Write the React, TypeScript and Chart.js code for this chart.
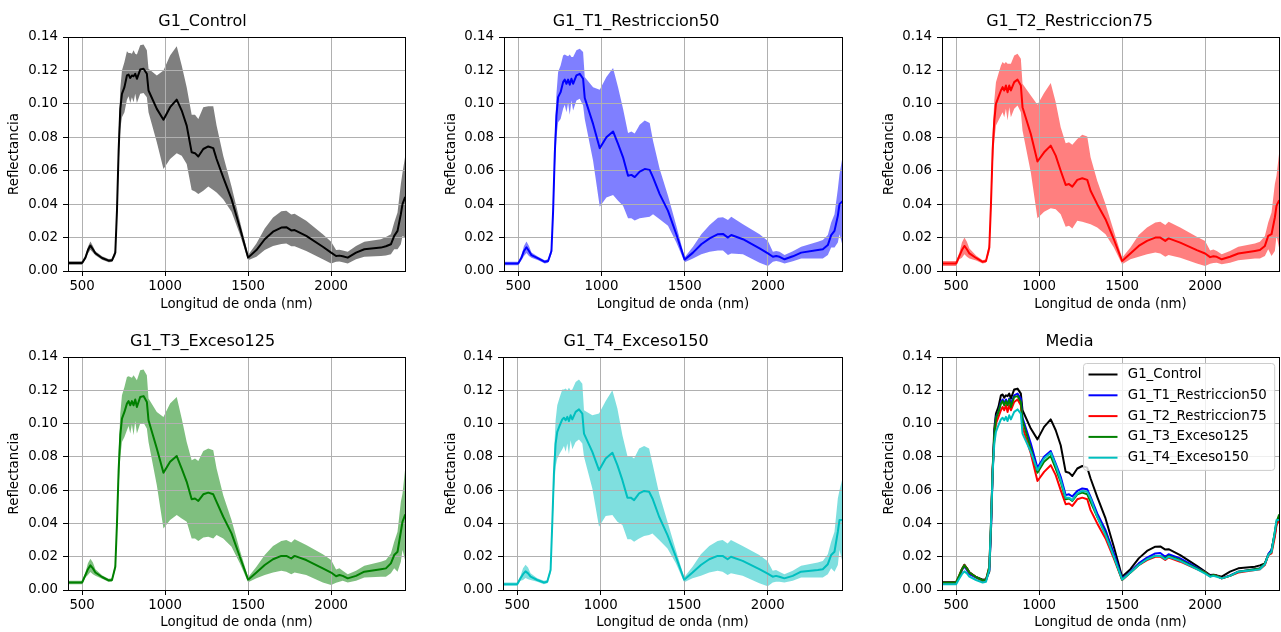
import React, { useEffect, useRef } from "react";
import { Chart, registerables } from "chart.js";

Chart.register(...registerables);

// ---------------- data ----------------
const WAVELENGTHS = [
  420, 500, 520, 535, 550, 565, 580, 620, 660, 680, 700, 710,
  720, 730, 740, 755, 770, 780, 790, 800, 810, 820,
  830, 850, 870, 890, 900, 950, 990, 1030, 1070, 1100,
  1130, 1160, 1180, 1200, 1230, 1260, 1290, 1310, 1350, 1400,
  1450, 1500, 1550, 1600, 1650, 1700, 1730, 1760, 1780, 1850,
  1950, 2000, 2030, 2050, 2070, 2100, 2150, 2200, 2300, 2330,
  2360, 2380, 2400, 2420, 2430, 2445,
];

const CONTROL_MEAN = [
  0.0048, 0.0048, 0.008, 0.0125, 0.0152, 0.013, 0.0106, 0.0078, 0.0062, 0.0064, 0.011, 0.036,
  0.072, 0.097, 0.106, 0.110, 0.117, 0.1175, 0.1155, 0.117, 0.1165, 0.118,
  0.115, 0.1205, 0.121, 0.118, 0.108, 0.097, 0.0905, 0.098, 0.1025, 0.096,
  0.087, 0.071, 0.0705, 0.0685, 0.073, 0.0745, 0.0735, 0.067, 0.056, 0.043,
  0.026, 0.008, 0.0125, 0.019, 0.0235, 0.026, 0.0262, 0.0243, 0.0245, 0.021,
  0.0145, 0.011, 0.009, 0.0092, 0.0088, 0.008, 0.011, 0.013, 0.014, 0.0148,
  0.016, 0.021, 0.024, 0.034, 0.040, 0.044,
];
const CONTROL_STD = [
  0.001, 0.001, 0.001, 0.002, 0.0025, 0.002, 0.0012, 0.001, 0.001, 0.001, 0.002, 0.005,
  0.009, 0.012, 0.014, 0.015, 0.0145, 0.013, 0.015, 0.013, 0.0155, 0.012,
  0.0145, 0.0145, 0.0145, 0.014, 0.013, 0.020, 0.0295, 0.031, 0.032, 0.027,
  0.023, 0.0225, 0.023, 0.0225, 0.025, 0.024, 0.025, 0.020, 0.013, 0.0075,
  0.004, 0.0015, 0.004, 0.0065, 0.0085, 0.0098, 0.0098, 0.0095, 0.0097, 0.009,
  0.0075, 0.0065, 0.0035, 0.0035, 0.0035, 0.0035, 0.004, 0.0045, 0.005, 0.0055,
  0.006, 0.008, 0.011, 0.018, 0.019, 0.024,
];

const T1_MEAN = [
  0.0045, 0.0045, 0.008, 0.012, 0.0142, 0.012, 0.0095, 0.0075, 0.0055, 0.006, 0.012, 0.036,
  0.070, 0.093, 0.104, 0.107, 0.113, 0.1145, 0.112, 0.1145, 0.1115, 0.115,
  0.112, 0.117, 0.118, 0.115, 0.1035, 0.088, 0.0735, 0.080, 0.0835, 0.076,
  0.068, 0.057, 0.0575, 0.0562, 0.0595, 0.061, 0.0605, 0.056, 0.046, 0.036,
  0.022, 0.0068, 0.011, 0.016, 0.0195, 0.022, 0.0222, 0.020, 0.0215, 0.019,
  0.0135, 0.0105, 0.0085, 0.009, 0.0085, 0.007, 0.0088, 0.011, 0.0125, 0.013,
  0.0155, 0.0215, 0.024, 0.033, 0.040, 0.0415,
];
const T1_STD = [
  0.001, 0.001, 0.0015, 0.003, 0.0035, 0.003, 0.0015, 0.001, 0.001, 0.001, 0.002, 0.005,
  0.010, 0.013, 0.015, 0.016, 0.016, 0.015, 0.017, 0.014, 0.018, 0.013,
  0.016, 0.015, 0.015, 0.016, 0.0125, 0.022, 0.035, 0.036, 0.038, 0.034,
  0.029, 0.0255, 0.026, 0.026, 0.028, 0.029, 0.028, 0.022, 0.015, 0.009,
  0.005, 0.0015, 0.0035, 0.006, 0.008, 0.0098, 0.010, 0.0105, 0.011, 0.009,
  0.0085, 0.0075, 0.003, 0.003, 0.003, 0.0025, 0.003, 0.0035, 0.005, 0.0055,
  0.006, 0.0075, 0.010, 0.016, 0.018, 0.025,
];

const T2_MEAN = [
  0.0045, 0.0045, 0.009, 0.0125, 0.015, 0.013, 0.0105, 0.0078, 0.0055, 0.006, 0.014, 0.040,
  0.072, 0.090, 0.100, 0.104, 0.108, 0.110, 0.108, 0.111, 0.107, 0.111,
  0.108, 0.113, 0.1145, 0.111, 0.098, 0.082, 0.0655, 0.071, 0.075, 0.069,
  0.060, 0.0515, 0.052, 0.0505, 0.0545, 0.0555, 0.0545, 0.048, 0.040, 0.031,
  0.019, 0.006, 0.0105, 0.015, 0.018, 0.020, 0.020, 0.018, 0.0195, 0.017,
  0.0125, 0.0105, 0.0083, 0.0088, 0.0085, 0.007, 0.0085, 0.0105, 0.012, 0.0125,
  0.015, 0.021, 0.022, 0.032, 0.039, 0.042,
];
const T2_STD = [
  0.0015, 0.0015, 0.002, 0.0045, 0.005, 0.0045, 0.003, 0.0015, 0.001, 0.001, 0.003, 0.006,
  0.010, 0.012, 0.013, 0.014, 0.015, 0.015, 0.016, 0.014, 0.017, 0.013,
  0.016, 0.016, 0.0155, 0.016, 0.014, 0.023, 0.034, 0.0355, 0.0375, 0.032,
  0.026, 0.025, 0.025, 0.025, 0.0245, 0.026, 0.026, 0.020, 0.014, 0.009,
  0.005, 0.002, 0.0035, 0.0065, 0.008, 0.009, 0.0095, 0.0095, 0.010, 0.009,
  0.008, 0.0075, 0.004, 0.004, 0.0035, 0.003, 0.0035, 0.004, 0.0045, 0.005,
  0.006, 0.008, 0.013, 0.020, 0.018, 0.028,
];

const T3_MEAN = [
  0.0045, 0.0045, 0.009, 0.0125, 0.0148, 0.013, 0.0105, 0.0078, 0.0058, 0.006, 0.014, 0.040,
  0.072, 0.093, 0.103, 0.107, 0.112, 0.1135, 0.111, 0.1135, 0.111, 0.1145,
  0.110, 0.116, 0.1165, 0.113, 0.102, 0.085, 0.0705, 0.077, 0.0805, 0.073,
  0.065, 0.0545, 0.055, 0.0535, 0.0575, 0.0585, 0.0575, 0.053, 0.044, 0.034,
  0.020, 0.0062, 0.0105, 0.015, 0.0185, 0.0205, 0.0205, 0.019, 0.0205, 0.018,
  0.013, 0.0105, 0.0083, 0.009, 0.0085, 0.007, 0.0085, 0.011, 0.0125, 0.013,
  0.016, 0.021, 0.023, 0.035, 0.041, 0.045,
];
const T3_STD = [
  0.001, 0.001, 0.0015, 0.0035, 0.004, 0.0035, 0.002, 0.001, 0.001, 0.001, 0.002, 0.005,
  0.010, 0.013, 0.014, 0.015, 0.016, 0.015, 0.017, 0.014, 0.018, 0.013,
  0.016, 0.016, 0.016, 0.016, 0.013, 0.022, 0.0335, 0.035, 0.0355, 0.030,
  0.024, 0.0235, 0.024, 0.024, 0.026, 0.0265, 0.0265, 0.020, 0.013, 0.008,
  0.004, 0.0015, 0.0035, 0.006, 0.008, 0.009, 0.0095, 0.0095, 0.010, 0.009,
  0.0085, 0.0075, 0.004, 0.004, 0.003, 0.0025, 0.003, 0.0035, 0.0045, 0.005,
  0.006, 0.008, 0.012, 0.018, 0.017, 0.027,
];

const T4_MEAN = [
  0.0035, 0.0035, 0.007, 0.0095, 0.0112, 0.010, 0.008, 0.006, 0.0045, 0.005, 0.012, 0.040,
  0.070, 0.088, 0.095, 0.099, 0.1025, 0.1035, 0.102, 0.104, 0.1015, 0.105,
  0.1025, 0.107, 0.1085, 0.106, 0.094, 0.083, 0.072, 0.079, 0.0825, 0.075,
  0.066, 0.0555, 0.0555, 0.054, 0.058, 0.0595, 0.059, 0.055, 0.044, 0.033,
  0.020, 0.0062, 0.0105, 0.015, 0.0185, 0.0205, 0.0205, 0.0185, 0.020, 0.0175,
  0.0125, 0.0098, 0.008, 0.0085, 0.008, 0.007, 0.0085, 0.011, 0.012, 0.0125,
  0.0155, 0.021, 0.023, 0.035, 0.042, 0.042,
];
const T4_STD = [
  0.001, 0.001, 0.0015, 0.0035, 0.004, 0.0035, 0.002, 0.001, 0.001, 0.001, 0.002, 0.006,
  0.011, 0.014, 0.016, 0.017, 0.018, 0.017, 0.019, 0.016, 0.020, 0.015,
  0.018, 0.018, 0.018, 0.018, 0.014, 0.022, 0.034, 0.0345, 0.0375, 0.034,
  0.027, 0.025, 0.025, 0.025, 0.027, 0.027, 0.026, 0.021, 0.014, 0.008,
  0.004, 0.0015, 0.0035, 0.0065, 0.008, 0.009, 0.0095, 0.0095, 0.010, 0.009,
  0.0085, 0.0075, 0.0035, 0.0035, 0.003, 0.0025, 0.003, 0.0035, 0.0045, 0.005,
  0.006, 0.008, 0.012, 0.020, 0.018, 0.024,
];

const SERIES_NAMES = [
  "G1_Control",
  "G1_T1_Restriccion50",
  "G1_T2_Restriccion75",
  "G1_T3_Exceso125",
  "G1_T4_Exceso150",
];
const MEANS = [CONTROL_MEAN, T1_MEAN, T2_MEAN, T3_MEAN, T4_MEAN];
const STDS = [CONTROL_STD, T1_STD, T2_STD, T3_STD, T4_STD];

const X_MIN = 415;
const X_MAX = 2445;
const X_TICKS = [500, 1000, 1500, 2000];
const Y_TICKS = [0, 0.02, 0.04, 0.06, 0.08, 0.1, 0.12, 0.14];
const MEDIA_TITLE = "Media";
const X_LABEL = "Longitud de onda (nm)";
const Y_LABEL = "Reflectancia";

// ---------------- styles ----------------
const LINE_COLORS = ["#000000", "#0000ff", "#ff0000", "#008000", "#00bfbf"];
const BAND_COLORS = [
  "rgba(0,0,0,0.5)",
  "rgba(0,0,255,0.5)",
  "rgba(255,0,0,0.5)",
  "rgba(0,128,0,0.5)",
  "rgba(0,191,191,0.5)",
];
const FONT = "'DejaVu Sans', sans-serif";
const TICK_SIZE = 13.33;
const TITLE_SIZE = 16;
const GRID = "#b0b0b0";

// panel layout (page pixels)
const PANELS = [
  { series: 0, cl: 0, ct: 0, cw: 430, ch: 316, pl: 68, pr: 405, pt: 37, pb: 271, titleY: 22, yTitleX: 15, xTitleY: 304.3 },
  { series: 1, cl: 430, ct: 0, cw: 430, ch: 316, pl: 504, pr: 842, pt: 37, pb: 271, titleY: 22, yTitleX: 451.7, xTitleY: 304.3 },
  { series: 2, cl: 860, ct: 0, cw: 421, ch: 316, pl: 942, pr: 1279, pt: 37, pb: 271, titleY: 22, yTitleX: 890, xTitleY: 304.3 },
  { series: 3, cl: 0, ct: 316, cw: 430, ch: 316, pl: 68, pr: 405, pt: 357, pb: 590, titleY: 342, yTitleX: 15, xTitleY: 622.5 },
  { series: 4, cl: 430, ct: 316, cw: 430, ch: 316, pl: 503, pr: 842, pt: 357, pb: 590, titleY: 342, yTitleX: 451.7, xTitleY: 622.5 },
  { series: -1, cl: 860, ct: 316, cw: 421, ch: 316, pl: 942, pr: 1279, pt: 357, pb: 590, titleY: 342, yTitleX: 889.5, xTitleY: 622.5 },
];

const align = (v: number) => Math.round(v - 0.5) + 0.5;

const pts = (arr: number[]) => WAVELENGTHS.map((x, k) => ({ x, y: arr[k] }));

const gridOverPlugin = {
  id: "gridOver",
  beforeDatasetDraw(chart: any, args: any) {
    if (args.index !== 0) return;
    const { ctx, chartArea: a, scales } = chart;
    ctx.save();
    ctx.beginPath();
    ctx.rect(a.left, a.top, a.right - a.left, a.bottom - a.top);
    ctx.clip();
    ctx.strokeStyle = GRID;
    ctx.lineWidth = 1;
    ctx.beginPath();
    for (const v of X_TICKS) {
      const px = align(scales.x.getPixelForValue(v));
      ctx.moveTo(px, a.top);
      ctx.lineTo(px, a.bottom);
    }
    for (const v of Y_TICKS) {
      const py = align(scales.y.getPixelForValue(v));
      ctx.moveTo(a.left, py);
      ctx.lineTo(a.right, py);
    }
    ctx.stroke();
    ctx.restore();
  },
};

const framePlugin = {
  id: "frame",
  afterDatasetsDraw(chart: any) {
    const { ctx, chartArea: a } = chart;
    ctx.save();
    ctx.strokeStyle = "#000";
    ctx.lineWidth = 1;
    const l = align(a.left), r = align(a.right), t = align(a.top), b = align(a.bottom);
    ctx.strokeRect(l, t, r - l, b - t);
    ctx.restore();
  },
};

const legendPlugin = {
  id: "mediaLegend",
  afterDraw(chart: any) {
    const { ctx, chartArea: a } = chart;
    ctx.save();
    ctx.font = `${TICK_SIZE}px ${FONT}`;
    const tw = Math.max(...SERIES_NAMES.map((n) => ctx.measureText(n).width));
    const rowH = 20.8;
    const w = 44.3 + tw + 8;
    const h = 11 + rowH * (SERIES_NAMES.length - 1) + 12.7;
    const right = a.right - 5;
    const top = Math.round(a.top + 5.7) + 0.5;
    const left = Math.round(right - w) + 0.5;
    const r = 3;
    ctx.beginPath();
    ctx.moveTo(left + r, top);
    ctx.lineTo(left + w - r, top);
    ctx.arcTo(left + w, top, left + w, top + r, r);
    ctx.lineTo(left + w, top + h - r);
    ctx.arcTo(left + w, top + h, left + w - r, top + h, r);
    ctx.lineTo(left + r, top + h);
    ctx.arcTo(left, top + h, left, top + h - r, r);
    ctx.lineTo(left, top + r);
    ctx.arcTo(left, top, left + r, top, r);
    ctx.closePath();
    ctx.fillStyle = "rgba(255,255,255,0.8)";
    ctx.fill();
    ctx.strokeStyle = "#cccccc";
    ctx.lineWidth = 1;
    ctx.stroke();
    SERIES_NAMES.forEach((name, i) => {
      const y = top + 11 + i * rowH;
      ctx.strokeStyle = LINE_COLORS[i];
      ctx.lineWidth = 2;
      ctx.beginPath();
      ctx.moveTo(left + 5, y);
      ctx.lineTo(left + 34, y);
      ctx.stroke();
      ctx.fillStyle = "#000";
      ctx.textAlign = "left";
      ctx.textBaseline = "middle";
      ctx.fillText(name, left + 44.3, y);
    });
    ctx.restore();
  },
};

const LINE_BASE = {
  pointRadius: 0,
  tension: 0,
  borderJoinStyle: "round",
  borderCapStyle: "round",
};

function buildConfig(spec: any): any {
  const isMedia = spec.series < 0;
  const datasets: any[] = [];
  if (isMedia) {
    SERIES_NAMES.forEach((name, i) => {
      datasets.push({
        ...LINE_BASE,
        label: name,
        data: pts(MEANS[i]),
        borderColor: LINE_COLORS[i],
        borderWidth: 2,
        fill: false,
        order: SERIES_NAMES.length - i,
      });
    });
  } else {
    const i = spec.series;
    const mean = MEANS[i];
    const std = STDS[i];
    datasets.push({
      ...LINE_BASE,
      label: SERIES_NAMES[i],
      data: pts(mean),
      borderColor: LINE_COLORS[i],
      borderWidth: 2,
      fill: false,
    });
    datasets.push({
      ...LINE_BASE,
      label: "lower",
      data: pts(mean.map((m, k) => m - std[k])),
      borderWidth: 0,
      borderColor: "transparent",
      fill: false,
    });
    datasets.push({
      ...LINE_BASE,
      label: "upper",
      data: pts(mean.map((m, k) => m + std[k])),
      borderWidth: 0,
      borderColor: "transparent",
      backgroundColor: BAND_COLORS[i],
      fill: 1,
    });
  }

  const titleLH = TITLE_SIZE * 1.2;
  const labelLH = TICK_SIZE * 1.2;
  const titlePadTop = spec.titleY - spec.ct - titleLH / 2;
  const titlePadBottom = spec.pt - spec.ct - titlePadTop - titleLH;
  const yAxisW = spec.pl - spec.cl;
  const yTitlePad = spec.yTitleX - spec.cl - labelLH / 2;
  const xAxisH = spec.ch - (spec.pb - spec.ct);
  const xTitlePadBottom = spec.ct + spec.ch - spec.xTitleY - labelLH / 2;
  const font = { family: FONT, size: TICK_SIZE };

  return {
    type: "line",
    data: { datasets },
    options: {
      animation: false,
      responsive: false,
      events: [],
      devicePixelRatio: 1,
      layout: { padding: { left: 0, top: 0, bottom: 0, right: spec.cl + spec.cw - spec.pr } },
      plugins: {
        legend: { display: false },
        tooltip: { enabled: false },
        title: {
          display: true,
          text: isMedia ? MEDIA_TITLE : SERIES_NAMES[spec.series],
          color: "#000",
          font: { family: FONT, size: TITLE_SIZE, weight: "normal" },
          padding: { top: titlePadTop, bottom: titlePadBottom },
        },
      },
      scales: {
        x: {
          type: "linear",
          min: X_MIN,
          max: X_MAX,
          bounds: "data",
          afterBuildTicks: (s: any) => {
            s.ticks = X_TICKS.map((value) => ({ value }));
          },
          afterFit: (s: any) => {
            s.height = xAxisH;
          },
          ticks: {
            callback: (v: any) => String(v),
            padding: 3,
            maxRotation: 0,
            autoSkip: false,
            color: "#000",
            font,
          },
          grid: { color: GRID, lineWidth: 1, tickLength: 5, tickColor: "#000", tickWidth: 1 },
          border: { display: false },
          title: {
            display: true,
            text: X_LABEL,
            color: "#000",
            font,
            padding: { top: 0, bottom: xTitlePadBottom },
          },
        },
        y: {
          type: "linear",
          min: 0,
          max: 0.14,
          bounds: "data",
          afterBuildTicks: (s: any) => {
            s.ticks = Y_TICKS.map((value) => ({ value }));
          },
          afterFit: (s: any) => {
            s.width = yAxisW;
          },
          ticks: {
            callback: (v: any) => Number(v).toFixed(2),
            padding: 5,
            autoSkip: false,
            color: "#000",
            font,
          },
          grid: { color: GRID, lineWidth: 1, tickLength: 5, tickColor: "#000", tickWidth: 1 },
          border: { display: false },
          title: {
            display: true,
            text: Y_LABEL,
            color: "#000",
            font,
            padding: { top: yTitlePad, bottom: 0 },
          },
        },
      },
    },
    plugins: isMedia ? [framePlugin, legendPlugin] : [gridOverPlugin, framePlugin],
  };
}

function Panel({ spec }: { spec: any }) {
  const ref = useRef<HTMLCanvasElement>(null);
  useEffect(() => {
    if (!ref.current) return;
    const chart = new Chart(ref.current, buildConfig(spec));
    return () => chart.destroy();
  }, [spec]);
  return (
    <canvas
      ref={ref}
      width={spec.cw}
      height={spec.ch}
      style={{ position: "absolute", left: spec.cl, top: spec.ct, width: spec.cw, height: spec.ch }}
    />
  );
}

export default function App() {
  return (
    <div style={{ position: "absolute", left: 0, top: 0, width: 1281, height: 632, background: "#fff", overflow: "hidden" }}>
      {PANELS.map((p, i) => (
        <Panel key={i} spec={p} />
      ))}
    </div>
  );
}
